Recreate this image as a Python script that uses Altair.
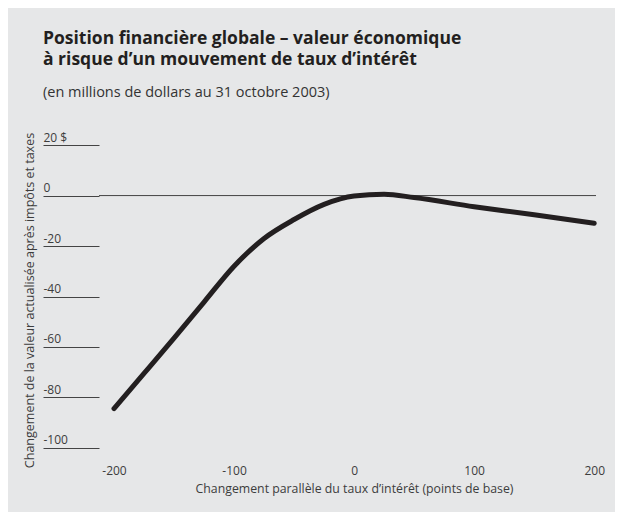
import altair as alt
import pandas as pd

# Data
rate_change = [-200, -175, -150, -125, -100, -75, -50, -25, 0, 25, 50, 100, 150, 200]
value_change = [-84.4, -70.5, -56.5, -42.2, -28.0, -17.0, -9.5, -3.5, -0.2, 0.5, -0.8, -4.4, -7.6, -11.0]

x_ticks = [-200, -100, 0, 100, 200]
y_ticks = [20, 0, -20, -40, -60, -80, -100]

title_lines = ["Position financière globale – valeur économique",
               "à risque d’un mouvement de taux d’intérêt"]
subtitle = "(en millions de dollars au 31 octobre 2003)"
x_title = "Changement parallèle du taux d’intérêt (points de base)"
y_title = "Changement de la valeur actualisée après impôts et taxes"

df = pd.DataFrame({"x": rate_change, "y": value_change})

FONT = "Open Sans"
TXT = "#3d3d3d"

x_scale = alt.Scale(domain=[-212.5, 201.5], nice=False, zero=False)
y_scale = alt.Scale(domain=[-104, 24], nice=False, zero=False)

x_axis = alt.Axis(
    values=x_ticks, title=x_title, domain=False, ticks=False, grid=False,
    labelExpr="'' + datum.value", labelFont=FONT, labelFontSize=12, labelColor=TXT,
    labelPadding=7, labelFlush=False, labelOverlap=False,
    titleFont=FONT, titleFontSize=12.3, titleFontWeight="normal", titleColor=TXT,
    titleX=255, titleY=24, titleAlign="center", titleBaseline="top",
)

y_axis = alt.Axis(
    values=y_ticks, title=y_title, domain=False, grid=False,
    ticks=True, tickSize=56, tickColor="#444444", tickWidth=1,
    labelExpr="datum.value == 20 ? '20 $' : '' + datum.value",
    labelAlign="left", labelBaseline="alphabetic", labelPadding=0, labelOffset=-4,
    labelFont=FONT, labelFontSize=12, labelColor=TXT, labelOverlap=False, labelFlush=False,
    titleFont=FONT, titleFontSize=12.5, titleFontWeight="normal", titleColor=TXT,
    titleAngle=270, titleX=-63, titleY=165, titleAlign="center", titleBaseline="bottom",
)

line = alt.Chart(df).mark_line(
    color="#231f20", strokeWidth=5, strokeCap="round", strokeJoin="round",
    interpolate="monotone",
).encode(
    x=alt.X("x:Q", scale=x_scale, axis=x_axis),
    y=alt.Y("y:Q", scale=y_scale, axis=y_axis),
)

zero = alt.Chart(pd.DataFrame({"z": [0]})).mark_rule(
    color="#444444", strokeWidth=1
).encode(y=alt.Y("z:Q", scale=y_scale))

chart = alt.layer(zero, line).properties(
    width=497, height=323,
    autosize=alt.AutoSizeParams(type="none"),
    padding={"left": 91, "top": 127, "right": 19, "bottom": 54},
    background="#e6e7e8",
    title=alt.TitleParams(
        text=title_lines, subtitle=subtitle,
        anchor="start", frame="group", dx=-56, offset=32,
        font=FONT, fontSize=17.5, fontWeight="bold", color="#231f20", lineHeight=21,
        subtitleFont=FONT, subtitleFontSize=14.5, subtitleFontWeight="normal",
        subtitleColor="#333333", subtitlePadding=17,
    ),
).configure_view(stroke=None)

chart.save("out.html", embed_options={"renderer": "svg", "actions": False})
